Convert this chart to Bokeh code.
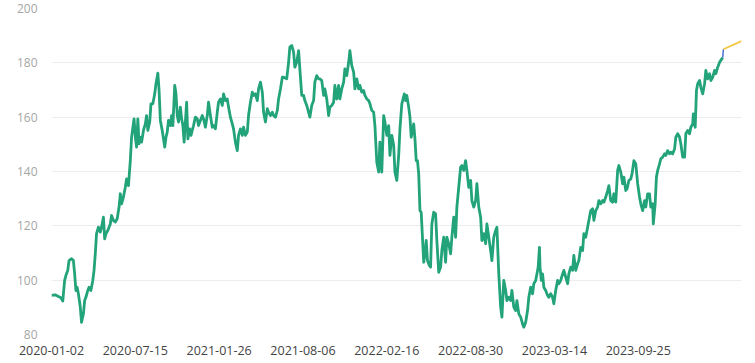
from bokeh.plotting import figure
from bokeh.models import FixedTicker, Range1d
from bokeh.embed import file_html
from bokeh.resources import INLINE

# trading-day index (0 = 2020-01-02) and closing price
day = [0, 6, 11, 15, 18, 21, 23, 26, 28, 32,
       35, 37, 39, 41, 43, 46, 48, 51, 53, 55,
       58, 60, 63, 66, 68, 70, 72, 75, 78, 80,
       83, 85, 87, 90, 94, 96, 99, 102, 105, 108,
       110, 112, 115, 118, 120, 123, 126, 128, 132, 134,
       136, 138, 140, 142, 144, 147, 150, 152, 154, 157,
       159, 162, 165, 167, 170, 172, 174, 177, 181, 183,
       185, 187, 190, 192, 194, 197, 199, 201, 203, 206,
       208, 210, 212, 214, 216, 218, 221, 223, 225, 227,
       230, 233, 235, 238, 241, 243, 246, 249, 251, 254,
       257, 259, 262, 265, 267, 270, 273, 275, 278, 281,
       283, 286, 289, 291, 294, 297, 299, 302, 305, 307,
       310, 313, 315, 318, 321, 323, 326, 329, 331, 334,
       337, 339, 342, 345, 347, 350, 353, 355, 358, 361,
       363, 366, 369, 371,
       376, 379, 381, 384, 387, 389, 392, 395, 397, 400,
       403, 405, 408, 411, 413, 416, 419, 421, 424, 427,
       429, 432, 435, 437, 440, 443, 445, 448, 451, 453,
       456, 459, 461, 464, 467, 469, 472, 475, 477, 480,
       483, 485, 488, 491, 493, 496, 499, 501, 504, 507,
       509, 512, 515, 517, 520, 523, 525, 528, 531, 533,
       536, 539, 541, 544, 547, 549, 552, 555, 557,
       560, 564, 566, 568, 571, 573, 575, 577, 579, 581,
       583, 585, 587, 589, 591, 593, 595, 597, 599, 601,
       604, 606, 608, 611, 614, 616, 619, 622, 624, 627,
       630, 632, 635, 638, 640, 643, 646, 648, 651, 654,
       656, 659, 662, 664, 667, 670, 672, 675, 678, 680,
       683, 686, 688, 691, 694, 696, 699, 702, 704, 707,
       710, 712, 715, 718, 720, 723, 726, 728, 731, 734,
       736, 739, 742, 744, 747,
       750, 753, 755, 758, 761, 763, 766, 769, 771, 774,
       777, 778, 780, 781, 783, 785, 787, 790, 793, 795,
       798, 801, 803, 806, 809, 811, 814, 817, 819, 822,
       825, 827, 830, 833, 835, 838, 841, 843, 846, 849,
       851, 854, 857, 859, 862, 865, 867, 870, 873, 875,
       878, 881, 883, 886, 889, 891, 894, 897, 899, 902,
       905, 907, 910, 913, 915, 918, 920, 923, 926, 928,
       931, 934,
       937, 940, 942, 945, 948, 950, 953, 956, 958, 961,
       962, 965, 967, 969, 972, 974, 977, 980, 982, 985,
       988, 990, 993, 996, 998, 1001, 1004, 1006, 1009, 1012,
       1014, 1017, 1020, 1022, 1025, 1026, 1029, 1031, 1033, 1036,
       1038, 1041, 1044, 1046, 1049, 1052, 1054, 1057, 1060, 1062,
       1065, 1068, 1070, 1073]

close = [94.4, 94.6, 94.0, 93.5, 92.3, 99.9, 101.7, 103.6, 107.2, 107.9,
         107.2, 102.3, 96.2, 97.4, 95.0, 90.1, 84.5, 87.6, 92.5, 93.7,
         96.2, 97.4, 96.2, 99.9, 103.6, 109.7, 117.1, 119.5, 117.7, 119.5,
         123.2, 115.2, 117.1, 118.3, 120.7, 123.8, 122.0, 121.4, 122.6, 126.9,
         131.8, 128.1, 130.6, 134.2, 137.3, 134.8, 144.0, 152.6, 159.4, 152.6,
         149.0, 159.4, 150.2, 152.6, 150.8, 155.1, 157.5, 160.6, 155.1, 158.2,
         164.9, 164.9, 168.6, 172.3, 176.2, 169.8, 158.8, 155.1, 149.0, 152.6,
         154.5, 158.8, 156.9, 160.6, 156.9, 171.7, 168.6, 160.6, 158.2, 163.7,
         159.4, 156.9, 150.8, 158.2, 165.5, 152.0, 155.7, 153.3, 155.1, 156.9,
         160.0, 159.4, 156.9, 158.8, 160.6, 159.4, 156.3, 160.6, 165.5, 160.6,
         156.3, 156.9, 155.7, 161.8, 165.5, 166.7, 164.3, 168.6, 166.1, 166.7,
         163.7, 160.0, 157.5, 155.7, 150.8, 147.7, 153.3, 155.7, 153.3, 156.3,
         153.3, 154.5, 160.6, 165.5, 169.2, 168.0, 168.6, 166.1, 170.4, 172.9,
         169.2, 161.8, 158.2, 163.1, 161.8, 160.6, 161.8, 160.6, 160.0, 162.5,
         166.7, 170.4, 174.7, 174.7,
         174.1, 180.2, 185.8, 186.4, 183.9, 178.4, 180.2, 184.5, 177.8, 168.0,
         168.0, 166.1, 164.3, 161.8, 160.0, 164.3, 166.1, 172.9, 175.3, 174.1,
         174.1, 173.5, 168.0, 170.4, 166.7, 160.6, 163.7, 164.3, 165.5, 171.7,
         166.7, 171.7, 166.7, 170.4, 172.9, 177.8, 175.3, 180.2, 184.5, 179.0,
         176.6, 170.4, 174.1, 170.4, 171.7, 169.2, 169.8, 168.0, 166.7, 166.1,
         164.9, 162.5, 161.8, 156.9, 143.4, 139.8, 150.8, 139.8, 160.6, 158.2,
         153.3, 156.9, 145.9, 153.3, 149.6, 139.8, 136.7, 145.9, 155.7,
         164.9, 168.6, 166.1, 168.0, 163.7, 160.0, 152.6, 155.1, 157.5, 152.0,
         144.0, 144.0, 139.1, 125.6, 125.0, 115.8, 106.6, 109.7, 114.6, 107.2,
         105.4, 104.8, 120.7, 125.0, 124.4, 114.6, 102.9, 104.8, 110.9, 115.8,
         106.6, 115.8, 113.4, 109.7, 115.8, 123.2, 115.8, 126.9, 134.2, 141.6,
         142.2, 140.4, 144.0, 140.4, 134.2, 136.7, 129.3, 126.9, 129.3, 135.5,
         126.9, 123.2, 114.6, 117.1, 113.4, 120.7, 115.8, 110.9, 107.2, 115.8,
         118.3, 119.5, 102.3, 90.1, 86.4, 99.9, 96.2, 92.5, 93.7, 92.5,
         96.2, 90.1, 88.8, 92.5, 87.6,
         86.4, 83.9, 82.7, 84.5, 88.8, 93.7, 97.4, 95.0, 98.7, 99.9,
         103.6, 104.8, 112.1, 104.8, 99.9, 102.3, 97.4, 96.2, 94.4, 93.7,
         95.0, 93.7, 91.3, 96.2, 99.9, 98.7, 99.9, 102.3, 103.6, 101.1,
         98.7, 102.3, 104.8, 103.6, 109.1, 103.6, 106.0, 107.2, 112.1, 110.9,
         117.1, 115.8, 119.5, 122.0, 125.6, 126.3, 122.0, 125.6, 126.9, 129.3,
         128.1, 129.3, 128.7, 130.6, 133.0, 134.8, 129.3, 128.7, 131.8, 128.7,
         140.4, 142.2, 139.8, 135.5, 137.9, 133.0, 133.6, 136.7, 137.3, 139.1,
         144.0, 142.8,
         135.5, 130.6, 128.1, 125.6, 129.3, 126.9, 131.8, 131.8, 126.9, 128.1,
         120.7, 128.1, 137.9, 140.4, 142.8, 144.7, 145.3, 146.5, 145.9, 147.7,
         146.5, 147.1, 146.5, 148.3, 152.6, 153.9, 152.6, 150.2, 145.3, 145.3,
         153.9, 155.1, 153.9, 156.3, 157.5, 161.2, 156.3, 169.8, 172.3, 173.5,
         171.0, 168.6, 172.3, 177.2, 174.1, 176.0, 173.5, 174.7, 177.2, 176.0,
         178.4, 180.2, 180.9, 182.0]

# last actual step and forecast
last_day = [1073, 1074]
last_close = [182.0, 185.0]
fc_day = [1074, 1103]
fc_close = [185.0, 188.0]

x_end = 1103
y_ticks = [80, 100, 120, 140, 160, 180, 200]
tick_days = [0, 134, 268, 402, 536, 670, 804, 938]
tick_labels = ["2020-01-02", "2020-07-15", "2021-01-26", "2021-08-06",
               "2022-02-16", "2022-08-30", "2023-03-14", "2023-09-25"]

p = figure(width=755, height=363, output_backend="svg", toolbar_location=None,
           x_range=Range1d(0, x_end), y_range=Range1d(80, 200),
           min_border_left=51, min_border_right=14, min_border_top=8,
           min_border_bottom=29)
p.outline_line_color = None
p.background_fill_color = "white"
p.border_fill_color = "white"

p.xgrid.visible = False
p.ygrid.grid_line_color = "#ececec"
p.ygrid.grid_line_width = 1

p.yaxis.ticker = FixedTicker(ticks=y_ticks)
p.yaxis.axis_line_color = None
p.yaxis.major_tick_line_color = None
p.yaxis.minor_tick_line_color = None
p.yaxis.major_label_text_color = "#a6a6a6"
p.yaxis.major_label_text_font = "Open Sans"
p.yaxis.major_label_text_font_size = "12px"
p.yaxis.major_label_standoff = 8

p.xaxis.ticker = FixedTicker(ticks=tick_days)
p.xaxis.major_label_overrides = {d: l for d, l in zip(tick_days, tick_labels)}
p.xaxis.axis_line_color = None
p.xaxis.major_tick_line_color = None
p.xaxis.minor_tick_line_color = None
p.xaxis.major_label_text_color = "#444444"
p.xaxis.major_label_text_font = "Open Sans"
p.xaxis.major_label_text_font_size = "12.5px"
p.xaxis.major_label_standoff = 5

p.line(day, close, line_color="#22a37a", line_width=2.8, line_join="round")
p.line(last_day, last_close, line_color="#4a6fd6", line_width=1.5)
p.line(fc_day, fc_close, line_color="#f2c744", line_width=1.8)

open("out.html", "w").write(file_html(p, INLINE))
